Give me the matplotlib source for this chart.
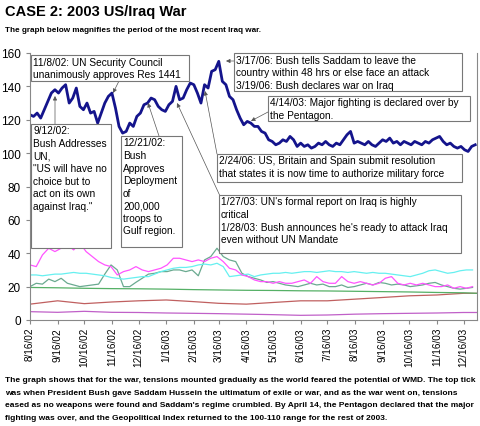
import matplotlib
matplotlib.use("Agg")
import matplotlib.pyplot as plt
import matplotlib.patches as patches
import pandas as pd

plt.rcParams['font.family'] = ['Liberation Sans', 'DejaVu Sans']

# main geopolitical index, one value every 4 days from 8/16/02
index_vals = [123, 122, 124, 121, 126, 131, 136, 138, 136, 139, 141, 130, 133, 139, 128, 126,
              130, 124, 125, 118, 124, 130, 134, 136, 127, 116, 112, 113, 118, 116, 122, 124,
              129, 130, 133, 132, 128, 126, 125, 129, 131, 140, 132, 133, 138, 142, 141, 136,
              130, 141, 139, 149, 150, 155, 143, 141, 134, 132, 126, 121, 117, 119, 118, 116,
              116, 113, 112, 108, 107, 105, 106, 108, 107, 110, 108, 104, 106, 104, 105, 103,
              104, 106, 105, 107, 105, 104, 106, 105, 108, 111, 113, 106, 107, 106, 105, 107,
              105, 104, 106, 108, 107, 109, 106, 107, 105, 107, 106, 105, 107, 106, 105, 107,
              106, 108, 109, 110, 107, 105, 106, 104, 103, 104, 102, 101, 104, 105]
index_dates = pd.date_range('2002-08-16', periods=len(index_vals), freq='4D')

# weekly component series
pink = [33, 32, 39, 43, 41, 43, 45, 42, 46, 41, 38, 35, 33, 32, 27, 29, 30, 32, 30, 29,
        30, 31, 33, 37, 37, 36, 35, 36, 35, 37, 38, 35, 31, 30, 27, 26, 24, 23, 23, 22,
        23, 22, 22, 23, 24, 22, 26, 23, 22, 22, 26, 23, 22, 23, 22, 21, 22, 25, 26, 22,
        21, 22, 21, 22, 21, 20, 20, 21, 19, 20, 19, 20]
cyan = [27, 27, 26.5, 27, 27.5, 27.5, 28, 28.5, 28, 28, 27.5, 27, 26.5, 25.5, 25, 24.5,
        25, 25.5, 26, 26, 27.5, 29, 30, 31, 31.5, 31.5, 32, 33, 33.5, 33, 34, 32, 26, 26.5,
        27, 27.5, 26, 27, 27.5, 28, 28, 28.5, 28, 28.5, 29, 29, 28.5, 29, 29.5, 29, 29,
        28.5, 29, 28.5, 28, 28.5, 28, 28, 27.5, 27, 26.5, 26, 27, 28, 29.5, 30, 29, 28,
        28.5, 29.5, 30, 30]
teal = [20, 22, 21.5, 24.5, 23, 25, 22, 21, 20, 20.5, 21, 21.5, 27.5, 33, 30, 20, 20,
        22.6, 25, 27.5, 28, 29, 29, 30, 30, 29, 30, 26.5, 36, 38, 43, 38, 36, 35, 28, 26,
        25, 24, 22.5, 23, 22, 21, 20.5, 20, 21, 22, 21, 21.5, 20, 20, 21, 19.5, 20, 21,
        22, 21, 22.5, 22, 21, 21.5, 21, 20, 20.5, 21, 22, 22.5, 21, 20, 19, 18.5, 19, 19.5]
week_dates = pd.date_range('2002-08-16', periods=len(pink), freq='7D')

# monthly smooth series
month_labels = ['2002-08-16', '2002-09-16', '2002-10-16', '2002-11-16', '2002-12-16',
                '2003-01-16', '2003-02-16', '2003-03-16', '2003-04-16', '2003-05-16',
                '2003-06-16', '2003-07-16', '2003-08-16', '2003-09-16', '2003-10-16',
                '2003-11-16', '2003-12-16', '2003-12-31']
green = [19.5, 19.3, 19.0, 18.8, 18.7, 18.5, 18.2, 18.0, 17.8, 17.7, 17.5, 17.4, 17.2,
         17.0, 16.8, 16.5, 16.3, 16.0]
brown = [9.5, 11.5, 9.8, 10.8, 11.5, 12, 11, 10, 9.5, 10.5, 11.5, 11.5, 12.5, 13.5, 14.5,
         15, 16, 16]
purple = [5, 4.6, 5.2, 4.6, 4.5, 4.2, 4.0, 3.8, 3.5, 3.2, 2.8, 3.0, 3.5, 3.8, 4.0, 4.2,
          4.5, 4.5]
month_dates = pd.to_datetime(month_labels)

tick_dates = pd.to_datetime(month_labels[:-1])

W, H = 480, 427
fig = plt.figure(figsize=(W / 100, H / 100), dpi=100)
ax = fig.add_axes([30 / W, 1 - 321 / H, 447 / W, 267 / H])


def fx(px):
    return px / W


def fy(py):
    return 1 - py / H


ax.plot(month_dates, purple, color='#c060c8', lw=0.9)
ax.plot(month_dates, brown, color='#c06060', lw=0.9)
ax.plot(month_dates, green, color='#55b066', lw=0.9)
ax.plot(week_dates, teal, color='#6aaa90', lw=0.9)
ax.plot(week_dates, cyan, color='#66f0f0', lw=0.9)
ax.plot(week_dates, pink, color='#ff55ff', lw=0.9)
ax.plot(index_dates, index_vals, color='#14148c', lw=2.0)

ax.set_ylim(0, 160)
ax.set_yticks(range(0, 161, 20))
ax.set_xlim(pd.Timestamp('2002-08-16'), pd.Timestamp('2003-12-31'))
ax.set_xticks(tick_dates)
ax.set_xticklabels([f"{d.month}/{d.day}/{d.strftime('%y')}" for d in tick_dates],
                   rotation=90, fontsize=7.2)
ax.tick_params(axis='y', labelsize=8.5, length=3, color='#888888')
ax.tick_params(axis='x', length=3, color='#888888', pad=2)
for s in ['left', 'bottom', 'right']:
    ax.spines[s].set_color('#888888')
    ax.spines[s].set_linewidth(0.8)
ax.spines['top'].set_visible(False)

fig.text(fx(5), fy(12), 'CASE 2: 2003 US/Iraq War', fontsize=10.5, fontweight='bold',
         va='center', ha='left')
fig.text(fx(5), fy(30), 'The graph below magnifies the period of the most recent Iraq war.',
         fontsize=5.9, fontweight='bold', va='center', ha='left')

caption = ["The graph shows that for the war, tensions mounted gradually as the world feared the potential of WMD. The top tick",
           "was when President Bush gave Saddam Hussein the ultimatum of exile or war, and as the war went on, tensions",
           "eased as no weapons were found and Saddam's regime crumbled. By April 14, the Pentagon declared that the major",
           "fighting was over, and the Geopolitical Index returned to the 100-110 range for the rest of 2003."]
for i, line in enumerate(caption):
    fig.text(fx(5), fy(381 + 12.5 * i), line, fontsize=6.05, fontweight='bold',
             va='center', ha='left')

# annotation boxes: (left, top, right, bottom, text)
boxes = [
    (31, 56, 189, 82, "11/8/02: UN Security Council\nunanimously approves Res 1441"),
    (234, 54, 462, 92, "3/17/06: Bush tells Saddam to leave the\ncountry within 48 hrs or else face an attack\n3/19/06: Bush declares war on Iraq"),
    (268, 97, 470, 122, "4/14/03: Major fighting is declared over by\nthe Pentagon."),
    (31, 125, 111, 249, "9/12/02:\nBush Addresses\nUN,\n\"US will have no\nchoice but to\nact on its own\nagainst Iraq.\""),
    (121, 137, 182, 248, "12/21/02:\nBush\nApproves\nDeployment\nof\n200,000\ntroops to\nGulf region."),
    (217, 155, 462, 183, "2/24/06: US, Britain and Spain submit resolution\nthat states it is now time to authorize military force"),
    (219, 196, 461, 254, "1/27/03: UN's formal report on Iraq is highly\ncritical\n1/28/03: Bush announces he's ready to attack Iraq\neven without UN Mandate"),
]

# arrows: (tail px, tip px)
arrows = [
    ((119, 82), (113, 94)),
    ((234, 62), (226, 62)),
    ((268, 113), (251, 122)),
    ((55, 125), (55, 97)),
    ((159, 137), (148, 104)),
    ((217, 155), (205, 92)),
    ((220, 197), (177, 104)),
]
for (tx, ty), (hx, hy) in arrows:
    fig.add_artist(patches.FancyArrowPatch((fx(tx), fy(ty)), (fx(hx), fy(hy)),
                                           transform=fig.transFigure, arrowstyle='-|>',
                                           mutation_scale=6, color='#555555', lw=0.5,
                                           shrinkA=0, shrinkB=0, zorder=4))

for l, t, r, b, txt in boxes:
    fig.add_artist(patches.Rectangle((fx(l), fy(b)), (r - l) / W, (b - t) / H,
                                     transform=fig.transFigure, facecolor='white',
                                     edgecolor='#777777', lw=0.8, zorder=5))
    fig.text(fx(l + 2), fy(t + 1.5), txt, fontsize=7.3, va='top', ha='left',
             linespacing=1.32, zorder=6)

fig.savefig('out.png', dpi=100)
